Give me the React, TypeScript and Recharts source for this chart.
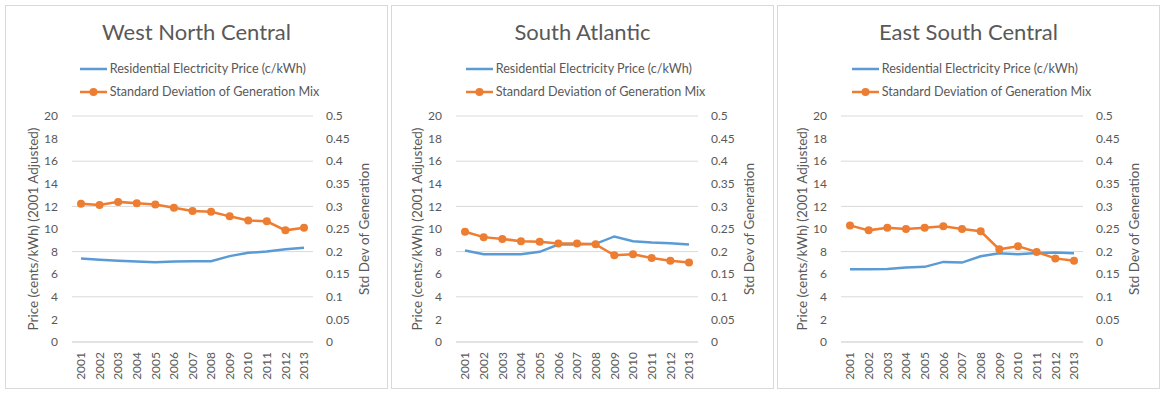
import React from "react";
import { LineChart, Line, XAxis, YAxis, CartesianGrid, Label } from "recharts";

const years = [
  "2001", "2002", "2003", "2004", "2005", "2006", "2007",
  "2008", "2009", "2010", "2011", "2012", "2013",
];

// West North Central
const wncPrice = [7.39, 7.27, 7.18, 7.12, 7.06, 7.12, 7.14, 7.14, 7.6, 7.89, 8.01, 8.21, 8.33];
const wncStdDev = [0.306, 0.303, 0.31, 0.307, 0.304, 0.297, 0.29, 0.288, 0.278, 0.269, 0.267, 0.247, 0.253];

// South Atlantic
const saPrice = [8.09, 7.77, 7.77, 7.77, 7.98, 8.63, 8.63, 8.69, 9.34, 8.92, 8.8, 8.74, 8.63];
const saStdDev = [0.244, 0.232, 0.228, 0.223, 0.222, 0.218, 0.218, 0.216, 0.192, 0.194, 0.186, 0.18, 0.176];

// East South Central
const escPrice = [6.43, 6.43, 6.47, 6.6, 6.65, 7.09, 7.03, 7.59, 7.86, 7.77, 7.88, 7.92, 7.85];
const escStdDev = [0.258, 0.247, 0.253, 0.25, 0.253, 0.256, 0.25, 0.245, 0.205, 0.212, 0.199, 0.185, 0.18];

const priceTicks = [0, 2, 4, 6, 8, 10, 12, 14, 16, 18, 20];
const stdDevTicks = [0, 0.05, 0.1, 0.15, 0.2, 0.25, 0.3, 0.35, 0.4, 0.45, 0.5];

const BLUE = "#5B9BD5";
const ORANGE = "#ED7D31";
const TEXT = "#595959";
const GRID = "#D9D9D9";
const FONT = "Lato, 'Open Sans', sans-serif";

const panels = [
  { title: "West North Central", price: wncPrice, stdDev: wncStdDev, left: 5, leftWidth: 66, rightWidth: 74 },
  { title: "South Atlantic", price: saPrice, stdDev: saStdDev, left: 391, leftWidth: 64, rightWidth: 75 },
  { title: "East South Central", price: escPrice, stdDev: escStdDev, left: 777, leftWidth: 63, rightWidth: 76 },
];

const YearTick = (props: any) => {
  const { x, y, payload } = props;
  return (
    <text
      x={x}
      y={y}
      transform={`rotate(-90, ${x}, ${y})`}
      textAnchor="end"
      dy="0.35em"
      fontSize={12}
      fill={TEXT}
      fontFamily={FONT}
    >
      {payload.value}
    </text>
  );
};

const axisTitle = (text: string, side: "left" | "right") => (props: any) => {
  const vb = props.viewBox || {};
  const cx = side === "left" ? vb.x + vb.width - 39.5 : vb.x + 51;
  const cy = vb.y + vb.height / 2;
  return (
    <text
      x={cx}
      y={cy}
      transform={`rotate(-90, ${cx}, ${cy})`}
      textAnchor="middle"
      dominantBaseline="central"
      fontSize={13.5}
      fill={TEXT}
      fontFamily={FONT}
    >
      {text}
    </text>
  );
};

function LegendRow({ color, dot, label }: { color: string; dot: boolean; label: string }) {
  return (
    <div style={{ display: "flex", alignItems: "center", height: 23 }}>
      <svg width={27} height={10} style={{ marginRight: 3 }}>
        <line x1={0} y1={5} x2={27} y2={5} stroke={color} strokeWidth={2.5} />
        {dot && <circle cx={13.5} cy={5} r={4} fill={color} />}
      </svg>
      <span style={{ fontSize: 12.6, color: TEXT, whiteSpace: "nowrap" }}>{label}</span>
    </div>
  );
}

function Panel({ title, price, stdDev, left, leftWidth, rightWidth }: any) {
  const data = years.map((year, i) => ({ year, price: price[i], stdDev: stdDev[i] }));
  return (
    <div
      style={{
        position: "absolute",
        left,
        top: 5,
        width: 383,
        height: 384,
        boxSizing: "border-box",
        border: `1px solid ${GRID}`,
        background: "#fff",
        fontFamily: FONT,
      }}
    >
      <div
        style={{
          position: "absolute",
          left: 0,
          right: 0,
          top: 11,
          textAlign: "center",
          fontSize: 22,
          lineHeight: "30px",
          color: TEXT,
        }}
      >
        {title}
      </div>
      <div
        style={{
          position: "absolute",
          left: 0,
          right: 0,
          top: 51,
          display: "flex",
          justifyContent: "center",
        }}
      >
        <div style={{ marginLeft: 6 }}>
          <LegendRow color={BLUE} dot={false} label="Residential Electricity Price (c/kWh)" />
          <LegendRow color={ORANGE} dot={true} label="Standard Deviation of Generation Mix" />
        </div>
      </div>
      <div style={{ position: "absolute", left: 0, top: 0 }}>
        <LineChart width={381} height={382} data={data} margin={{ top: 110, right: 0, bottom: 0, left: 0 }}>
          <CartesianGrid horizontal={true} vertical={false} stroke={GRID} yAxisId="price" />
          <XAxis
            dataKey="year"
            interval={0}
            height={46}
            padding={{ left: 9, right: 9 }}
            axisLine={{ stroke: GRID }}
            tickLine={false}
            tickSize={0}
            tickMargin={10}
            tick={<YearTick />}
          />
          <YAxis
            yAxisId="price"
            orientation="left"
            domain={[0, 20]}
            ticks={priceTicks}
            width={leftWidth}
            axisLine={false}
            tickLine={false}
            tickSize={0}
            tickMargin={14}
            tick={{ fontSize: 12, fill: TEXT, fontFamily: FONT }}
          >
            <Label content={axisTitle("Price (cents/kWh) (2001 Adjusted)", "left")} />
          </YAxis>
          <YAxis
            yAxisId="std"
            orientation="right"
            domain={[0, 0.5]}
            ticks={stdDevTicks}
            width={rightWidth}
            axisLine={false}
            tickLine={false}
            tickSize={0}
            tickMargin={13}
            tick={{ fontSize: 12, fill: TEXT, fontFamily: FONT, textAnchor: "start" }}
          >
            <Label content={axisTitle("Std Dev of Generation", "right")} />
          </YAxis>
          <Line
            yAxisId="price"
            type="linear"
            dataKey="price"
            stroke={BLUE}
            strokeWidth={2.5}
            dot={false}
            isAnimationActive={false}
          />
          <Line
            yAxisId="std"
            type="linear"
            dataKey="stdDev"
            stroke={ORANGE}
            strokeWidth={2.5}
            dot={{ r: 4, fill: ORANGE, stroke: ORANGE, strokeWidth: 0 }}
            isAnimationActive={false}
          />
        </LineChart>
      </div>
    </div>
  );
}

export default function App() {
  return (
    <div style={{ position: "absolute", left: 0, top: 0, width: 1165, height: 396, background: "#fff" }}>
      {panels.map((p) => (
        <Panel key={p.title} {...p} />
      ))}
    </div>
  );
}
